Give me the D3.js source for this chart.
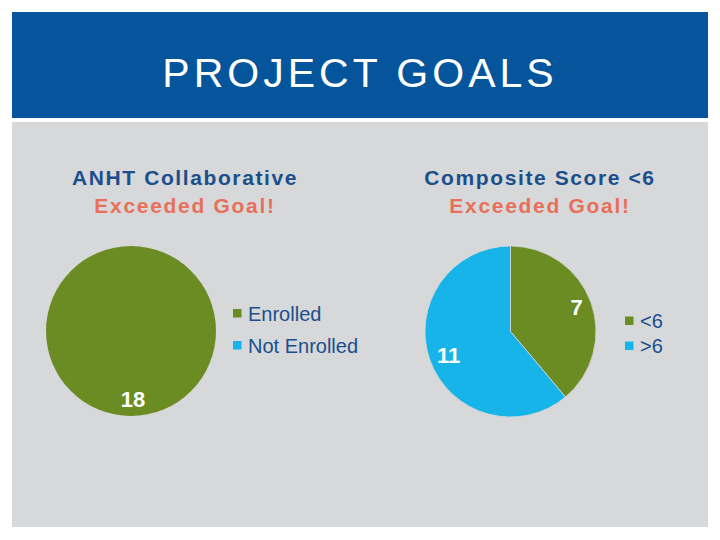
<!DOCTYPE html>
<html><head><meta charset="utf-8">
<script src="https://cdn.jsdelivr.net/npm/d3@7"></script>
<style>html,body{margin:0;padding:0;background:#fff;}svg{display:block;}</style>
</head><body>
<script>
const pageTitle = "PROJECT GOALS";
const leftTitle = ["ANHT Collaborative", "Exceeded Goal!"];
const leftCategories = ["Enrolled", "Not Enrolled"];
const leftValues = [18, 0];
const rightTitle = ["Composite Score <6", "Exceeded Goal!"];
const rightCategories = ["<6", ">6"];
const rightValues = [7, 11];
const sliceColors = ["#6b8c23", "#16b4e9"];

const W = 720, H = 540;
const FONT = "'Liberation Sans', Arimo, Arial, Helvetica, sans-serif";
const svg = d3.select("body").append("svg").attr("width", W).attr("height", H)
  .attr("font-family", FONT).style("font-family", FONT);
svg.append("rect").attr("width", W).attr("height", H).attr("fill", "#fff");
svg.append("rect").attr("x", 12).attr("y", 12).attr("width", 696).attr("height", 106).attr("fill", "#04559b");
svg.append("rect").attr("x", 12).attr("y", 122).attr("width", 696).attr("height", 405).attr("fill", "#d6d8da");
svg.append("text").attr("x", 360).attr("y", 87).attr("text-anchor", "middle")
  .attr("fill", "#fff").attr("font-size", 41).attr("letter-spacing", 4).text(pageTitle);

function drawPie(cx, cy, r, cats, vals, title, titleX, legX, legY, legGap, labelPos) {
  const color = d3.scaleOrdinal().domain(cats).range(sliceColors);
  const pie = d3.pie().sort(null).value(d => d.v);
  const data = pie(cats.map((c, i) => ({c, v: vals[i]})));
  const arc = d3.arc().innerRadius(0).outerRadius(r);
  const g = svg.append("g").attr("transform", `translate(${cx},${cy})`);
  const shown = data.filter(d => d.data.v > 0);
  g.selectAll("path").data(shown).join("path")
    .attr("d", arc).attr("fill", d => color(d.data.c))
    .attr("stroke", "#d6d8da").attr("stroke-width", shown.length > 1 ? 0.8 : 0);
  g.selectAll("text.lab").data(shown).join("text")
    .attr("class", "lab")
    .attr("x", (d, i) => labelPos[i][0]).attr("y", (d, i) => labelPos[i][1])
    .attr("text-anchor", "middle").attr("fill", "#fff").attr("font-size", 22).attr("font-weight", "bold")
    .text(d => d.data.v);
  svg.append("text").attr("x", titleX).attr("y", 185).attr("text-anchor", "middle")
    .attr("fill", "#1b4f8c").attr("font-size", 21).attr("font-weight", "bold").attr("letter-spacing", 1.6).text(title[0]);
  svg.append("text").attr("x", titleX).attr("y", 213).attr("text-anchor", "middle")
    .attr("fill", "#e8705a").attr("font-size", 21).attr("font-weight", "bold").attr("letter-spacing", 1.7).text(title[1]);
  const lg = svg.append("g").attr("transform", `translate(${legX},${legY})`);
  const item = lg.selectAll("g").data(cats).join("g").attr("transform", (d, i) => `translate(0,${i * legGap})`);
  item.append("rect").attr("x", 0).attr("y", -4.5).attr("width", 8.5).attr("height", 8.5).attr("fill", d => color(d));
  item.append("text").attr("x", 15).attr("y", 7).attr("fill", "#1b4f8c").attr("font-size", 20).text(d => d);
}

drawPie(131, 331, 85, leftCategories, leftValues, leftTitle, 185, 233, 313.5, 32, [[2, 76]]);
drawPie(510.5, 331.5, 85.5, rightCategories, rightValues, rightTitle, 540, 625, 321, 25, [[66, -17], [-62, 31.5]]);
</script>
</body></html>
